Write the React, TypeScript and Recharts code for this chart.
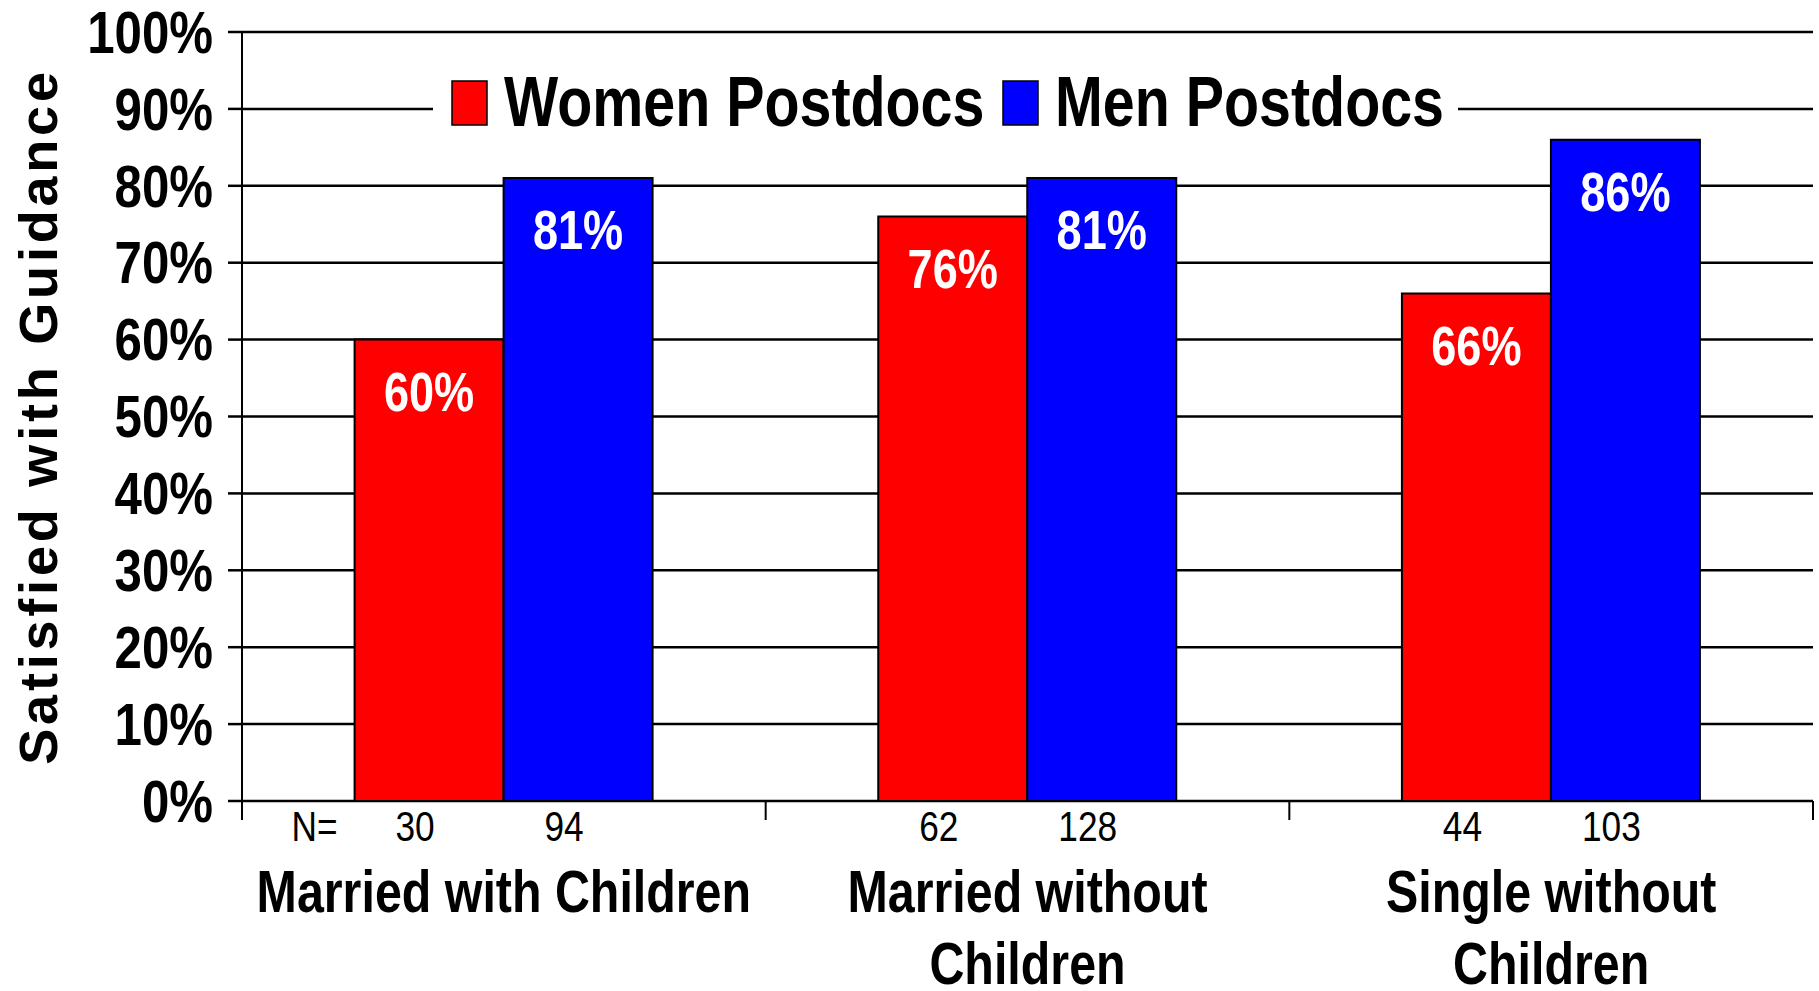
import { BarChart, Bar, XAxis, YAxis, CartesianGrid, Legend, LabelList } from "recharts";

const categorias = ["Married with Children", "Married without\nChildren", "Single without\nChildren"];
const women = [60, 76, 66];
const men = [81, 81, 86];
const nWomen = [30, 62, 44];
const nMen = [94, 128, 103];
const yTicks = [0, 10, 20, 30, 40, 50, 60, 70, 80, 90, 100];
const ordemLegenda = ["women", "men"];

const dados = categorias.map((c, i) => ({
  categoria: c,
  women: women[i],
  men: men[i],
  nWomen: nWomen[i],
  nMen: nMen[i],
}));

const FONTE = '"Liberation Sans", Arial, sans-serif';
const ESTREITO = 0.82; // sem Arial Narrow: comprime a Liberation Sans na horizontal

// texto "narrow" em SVG
function Estreito({ x, y, anchor = "middle", size, bold = true, fill = "#000", children }: any) {
  return (
    <g transform={`translate(${x},${y}) scale(${ESTREITO},1)`}>
      <text
        x={0}
        y={0}
        textAnchor={anchor}
        dominantBaseline="central"
        fontFamily={FONTE}
        fontWeight={bold ? "bold" : "normal"}
        fontSize={size}
        fill={fill}
      >
        {children}
      </text>
    </g>
  );
}

function CategoryTick(props: any) {
  const { x, y, payload, index, visibleTicksCount, width } = props;
  const half = width / visibleTicksCount / 2;
  const lines = String(payload.value).split("\n");
  return (
    <g>
      <line x1={x - half} x2={x - half} y1={y} y2={y + 19} stroke="#000" strokeWidth={2} />
      {index === visibleTicksCount - 1 && (
        <line x1={x + half} x2={x + half} y1={y} y2={y + 19} stroke="#000" strokeWidth={2} />
      )}
      {lines.map((l, i) => (
        <Estreito key={i} x={x} y={y + 90 + i * 72} size={59}>
          {l}
        </Estreito>
      ))}
    </g>
  );
}

function YTick(props: any) {
  const { x, y, payload } = props;
  return (
    <Estreito x={x} y={y} anchor="end" size={60}>
      {payload.value}%
    </Estreito>
  );
}

function ValueLabel(props: any) {
  const { x, y, width, value } = props;
  return (
    <Estreito x={x + width / 2} y={y + 52} size={55} fill="#fff">
      {value}%
    </Estreito>
  );
}

function NLabel(props: any) {
  const { x, y, width, height, value, index, prefixo } = props;
  const cy = y + height + 25;
  return (
    <g>
      {prefixo && index === 0 && (
        <Estreito x={x - 17} y={cy} anchor="end" size={43} bold={false}>
          N=
        </Estreito>
      )}
      <Estreito x={x + width / 2 - 14} y={cy} size={43} bold={false}>
        {value}
      </Estreito>
    </g>
  );
}

function LegendBox(props: any) {
  const itens = [...(props.payload || [])].sort(
    (a: any, b: any) => ordemLegenda.indexOf(a.dataKey) - ordemLegenda.indexOf(b.dataKey)
  );
  const posicoes = [19, 570];
  return (
    <svg width={1025} height={90} style={{ display: "block" }}>
      <rect x={0} y={0} width={1025} height={90} fill="#fff" />
      {itens.map((p: any, i: number) => (
        <g key={i}>
          <rect x={posicoes[i]} y={23} width={35} height={44} fill={p.color} stroke="#000" strokeWidth={1.5} />
          <Estreito x={posicoes[i] + 52} y={44} anchor="start" size={70}>
            {p.value}
          </Estreito>
        </g>
      ))}
    </svg>
  );
}

export default function App() {
  return (
    <div style={{ position: "absolute", left: 0, top: 0, background: "#fff" }}>
      <BarChart
        width={1819}
        height={991}
        data={dados}
        margin={{ top: 32, right: 6, left: 0, bottom: 0 }}
        barCategoryGap="21.5%"
        barGap={0}
      >
        <CartesianGrid vertical={false} stroke="#000" strokeWidth={2.5} strokeDasharray="" />
        <XAxis
          dataKey="categoria"
          height={190}
          axisLine={false}
          tickLine={false}
          tickSize={0}
          tickMargin={0}
          interval={0}
          tick={<CategoryTick />}
        />
        <YAxis
          width={242}
          domain={[0, 100]}
          ticks={yTicks}
          interval={0}
          tick={<YTick />}
          tickSize={14}
          tickMargin={15}
          axisLine={{ stroke: "#000", strokeWidth: 2 }}
          tickLine={{ stroke: "#000", strokeWidth: 2.5 }}
          label={{
            content: (p: any) => {
              const vb = p.viewBox;
              const cx = vb.x + 38;
              const cy = vb.y + vb.height / 2;
              return (
                <text
                  x={cx}
                  y={cy}
                  transform={`rotate(-90 ${cx} ${cy})`}
                  textAnchor="middle"
                  dominantBaseline="central"
                  fontFamily={FONTE}
                  fontWeight="bold"
                  fontSize={54}
                  letterSpacing={3.8}
                  fill="#000"
                >
                  Satisfied with Guidance
                </text>
              );
            },
          }}
        />
        <Legend
          layout="horizontal"
          verticalAlign="middle"
          align="center"
          wrapperStyle={{ left: 433, top: 58, width: 1025, height: 90 }}
          content={<LegendBox />}
        />
        <Bar dataKey="women" name="Women Postdocs" fill="#FF0000" stroke="#000" strokeWidth={2} isAnimationActive={false}>
          <LabelList dataKey="women" content={<ValueLabel />} />
          <LabelList dataKey="nWomen" content={<NLabel prefixo />} />
        </Bar>
        <Bar dataKey="men" name="Men Postdocs" fill="#0000FF" stroke="#000" strokeWidth={2} isAnimationActive={false}>
          <LabelList dataKey="men" content={<ValueLabel />} />
          <LabelList dataKey="nMen" content={<NLabel />} />
        </Bar>
      </BarChart>
    </div>
  );
}
